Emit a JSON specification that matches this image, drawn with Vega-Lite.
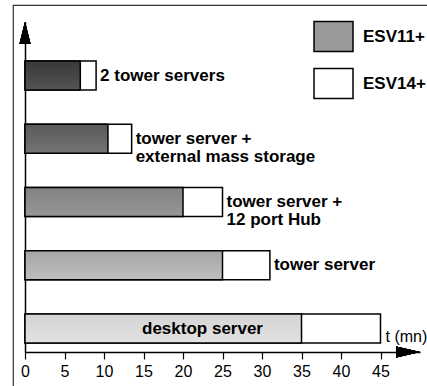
{
  "$schema": "https://vega.github.io/schema/vega-lite/v6.json",
  "width": 416,
  "height": 383,
  "autosize": {"type": "none"},
  "padding": {"top": 5, "left": 13, "right": -2, "bottom": -2},
  "background": "white",
  "config": {
    "view": {"stroke": "#333333", "strokeWidth": 1.2},
    "font": "Liberation Sans",
    "text": {"font": "Liberation Sans"}
  },
  "data": {
    "values": [
      {"category": "2 tower servers", "series": "ESV14+", "minutes": 9},
      {"category": "tower server +\nexternal mass storage", "series": "ESV14+", "minutes": 13.5},
      {"category": "tower server +\n12 port Hub", "series": "ESV14+", "minutes": 25},
      {"category": "tower server", "series": "ESV14+", "minutes": 31},
      {"category": "desktop server", "series": "ESV14+", "minutes": 45},
      {"category": "2 tower servers", "series": "ESV11+", "minutes": 7},
      {"category": "tower server +\nexternal mass storage", "series": "ESV11+", "minutes": 10.5},
      {"category": "tower server +\n12 port Hub", "series": "ESV11+", "minutes": 20},
      {"category": "tower server", "series": "ESV11+", "minutes": 25},
      {"category": "desktop server", "series": "ESV11+", "minutes": 35}
    ]
  },
  "resolve": {"scale": {"y": "independent"}},
  "layer": [
    {
      "layer": [
        {
          "transform": [{"filter": "datum.series === 'ESV14+'"}],
          "mark": {"type": "bar", "stroke": "black", "strokeWidth": 1.5},
          "encoding": {
            "y": {
              "field": "category", "type": "nominal", "sort": null,
              "scale": {
                "domain": ["2 tower servers", "tower server +\nexternal mass storage", "tower server +\n12 port Hub", "tower server", "desktop server"],
                "range": [17, 347], "paddingInner": 0.54, "paddingOuter": 0.379, "align": 0.814
              },
              "axis": {"labels": false, "ticks": false, "title": null, "grid": false, "domainColor": "black", "domainWidth": 1.5, "offset": -12}
            },
            "x": {
              "field": "minutes", "type": "quantitative",
              "scale": {"domain": [0, 50], "range": [12, 407], "nice": false, "zero": false},
              "axis": {
                "values": [0, 5, 10, 15, 20, 25, 30, 35, 40, 45],
                "grid": false, "offset": -36,
                "tickSize": 7, "tickColor": "black", "tickWidth": 1.2,
                "domainColor": "black", "domainWidth": 1.5,
                "labelFontSize": 16, "labelColor": "black", "labelPadding": 4, "labelFont": "Liberation Sans",
                "labelFlush": false, "labelOverlap": false,
                "title": "t (mn)", "titleX": 372, "titleY": -16, "titleAlign": "left", "titleBaseline": "middle",
                "titleFontWeight": "normal", "titleFontSize": 16, "titleColor": "black", "titleFont": "Liberation Sans", "titleAngle": 0
              }
            },
            "fill": {
              "field": "series", "type": "nominal",
              "scale": {"domain": ["ESV11+", "ESV14+"], "range": ["#9a9a9a", "white"]},
              "legend": {
                "orient": "none", "legendX": 300, "legendY": 11, "title": null,
                "symbolType": "M-1,-0.77H1V0.77H-1Z", "symbolSize": 1521,
                "symbolStrokeColor": "black", "symbolStrokeWidth": 1.5,
                "labelFontSize": 17, "labelFontWeight": "bold", "labelColor": "black", "labelFont": "Liberation Sans",
                "labelOffset": 9, "rowPadding": 8,
                "encoding": {
                  "symbols": {
                    "stroke": {"value": "black"},
                    "strokeWidth": {"value": 1.5},
                    "opacity": {"value": 1}
                  }
                }
              }
            }
          }
        },
        {
          "transform": [{"filter": "datum.series === 'ESV11+' && datum.category === '2 tower servers'"}],
          "mark": {"type": "bar", "stroke": "black", "strokeWidth": 1.5, "fill": {"gradient": "linear", "x1": 0, "y1": 0, "x2": 0, "y2": 1, "stops": [{"offset": 0, "color": "#383838"}, {"offset": 1, "color": "#555555"}]}},
          "encoding": {"y": {"field": "category", "type": "nominal"}, "x": {"field": "minutes", "type": "quantitative"}}
        },
        {
          "transform": [{"filter": "datum.series === 'ESV11+' && datum.category === 'tower server +\\nexternal mass storage'"}],
          "mark": {"type": "bar", "stroke": "black", "strokeWidth": 1.5, "fill": {"gradient": "linear", "x1": 0, "y1": 0, "x2": 0, "y2": 1, "stops": [{"offset": 0, "color": "#5a5a5a"}, {"offset": 1, "color": "#747474"}]}},
          "encoding": {"y": {"field": "category", "type": "nominal"}, "x": {"field": "minutes", "type": "quantitative"}}
        },
        {
          "transform": [{"filter": "datum.series === 'ESV11+' && datum.category === 'tower server +\\n12 port Hub'"}],
          "mark": {"type": "bar", "stroke": "black", "strokeWidth": 1.5, "fill": {"gradient": "linear", "x1": 0, "y1": 0, "x2": 0, "y2": 1, "stops": [{"offset": 0, "color": "#828282"}, {"offset": 1, "color": "#979797"}]}},
          "encoding": {"y": {"field": "category", "type": "nominal"}, "x": {"field": "minutes", "type": "quantitative"}}
        },
        {
          "transform": [{"filter": "datum.series === 'ESV11+' && datum.category === 'tower server'"}],
          "mark": {"type": "bar", "stroke": "black", "strokeWidth": 1.5, "fill": {"gradient": "linear", "x1": 0, "y1": 0, "x2": 0, "y2": 1, "stops": [{"offset": 0, "color": "#a6a6a6"}, {"offset": 1, "color": "#bebebe"}]}},
          "encoding": {"y": {"field": "category", "type": "nominal"}, "x": {"field": "minutes", "type": "quantitative"}}
        },
        {
          "transform": [{"filter": "datum.series === 'ESV11+' && datum.category === 'desktop server'"}],
          "mark": {"type": "bar", "stroke": "black", "strokeWidth": 1.5, "fill": {"gradient": "linear", "x1": 0, "y1": 0, "x2": 0, "y2": 1, "stops": [{"offset": 0, "color": "#d4d4d4"}, {"offset": 1, "color": "#e2e2e2"}]}},
          "encoding": {"y": {"field": "category", "type": "nominal"}, "x": {"field": "minutes", "type": "quantitative"}}
        },
        {
          "transform": [{"filter": "datum.series === 'ESV14+' && datum.category !== 'desktop server'"}],
          "mark": {"type": "text", "align": "left", "baseline": "middle", "dx": 4, "fontSize": 17, "fontWeight": "bold", "lineBreak": "\n", "lineHeight": 18, "color": "black"},
          "encoding": {"y": {"field": "category", "type": "nominal"}, "x": {"field": "minutes", "type": "quantitative"}, "text": {"field": "category"}}
        },
        {
          "transform": [{"filter": "datum.series === 'ESV14+' && datum.category === 'desktop server'"}],
          "mark": {"type": "text", "align": "center", "baseline": "middle", "dx": -178, "fontSize": 17, "fontWeight": "bold", "color": "black"},
          "encoding": {"y": {"field": "category", "type": "nominal"}, "x": {"field": "minutes", "type": "quantitative"}, "text": {"field": "category"}}
        }
      ]
    },
    {
      "layer": [
        {
          "mark": {"type": "point", "shape": "M0,0L0.5,2L-0.5,2Z", "size": 484, "filled": true, "color": "black", "opacity": 1, "strokeWidth": 0},
          "encoding": {
            "x": {"datum": 0, "type": "quantitative"},
            "y": {"datum": 1, "type": "quantitative", "scale": {"domain": [0, 1], "range": [347, 17]}, "axis": null}
          }
        },
        {
          "mark": {"type": "point", "shape": "M0,0L-2,-0.45L-2,0.45Z", "size": 576, "filled": true, "color": "black", "opacity": 1, "strokeWidth": 0},
          "encoding": {
            "x": {"datum": 50, "type": "quantitative"},
            "y": {"datum": 0, "type": "quantitative"}
          }
        }
      ]
    }
  ]
}
